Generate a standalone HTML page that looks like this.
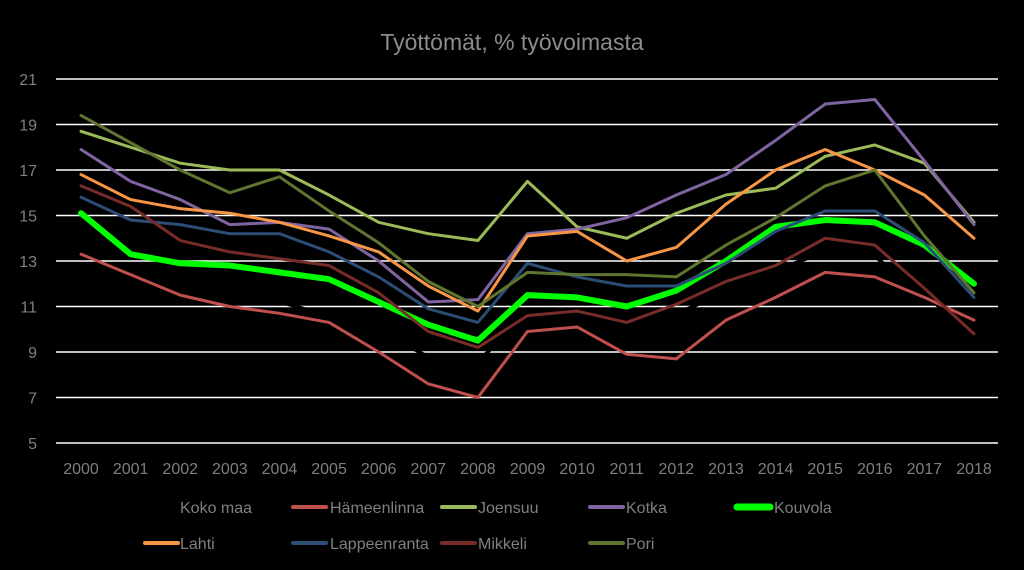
<!DOCTYPE html>
<html><head><meta charset="utf-8"><style>
body{margin:0;background:#000;}
svg{display:block;font-family:"Liberation Sans",sans-serif;}
</style></head><body>
<svg id="chart" width="1024" height="570">
<rect width="1024" height="570" fill="#000"/>
<text x="512" y="50" text-anchor="middle" font-size="23" fill="#8c8c8c">Työttömät, % työvoimasta</text>
<g id="grid"></g><g id="series"></g><g id="legend"></g>
</svg>
<script>
const years=[2000,2001,2002,2003,2004,2005,2006,2007,2008,2009,2010,2011,2012,2013,2014,2015,2016,2017,2018];
const yTicks=[5,7,9,11,13,15,17,19,21];
const kokoMaa=[12.7,12.3,12.0,11.7,11.2,10.6,9.9,8.8,8.6,10.6,10.6,10.3,10.7,11.6,12.6,13.4,13.2,11.5,9.8];
const hameenlinna=[13.3,12.4,11.5,11.0,10.7,10.3,9.0,7.6,7.0,9.9,10.1,8.9,8.7,10.4,11.4,12.5,12.3,11.4,10.4];
const joensuu=[18.7,18.0,17.3,17.0,17.0,15.9,14.7,14.2,13.9,16.5,14.5,14.0,15.1,15.9,16.2,17.6,18.1,17.3,14.7];
const kotka=[17.9,16.5,15.7,14.6,14.7,14.4,13.0,11.2,11.3,14.2,14.4,14.9,15.9,16.8,18.3,19.9,20.1,17.4,14.6];
const kouvola=[15.1,13.3,12.9,12.8,12.5,12.2,11.2,10.2,9.5,11.5,11.4,11.0,11.7,13.0,14.5,14.8,14.7,13.7,12.0];
const lahti=[16.8,15.7,15.3,15.1,14.7,14.1,13.4,11.9,10.8,14.1,14.3,13.0,13.6,15.5,17.0,17.9,17.0,15.9,14.0];
const lappeenranta=[15.8,14.8,14.6,14.2,14.2,13.4,12.3,10.9,10.3,12.9,12.3,11.9,11.9,12.9,14.3,15.2,15.2,13.8,11.4];
const mikkeli=[16.3,15.4,13.9,13.4,13.1,12.8,11.6,9.9,9.2,10.6,10.8,10.3,11.1,12.1,12.8,14.0,13.7,11.8,9.8];
const pori=[19.4,18.2,17.0,16.0,16.7,15.2,13.8,12.1,11.0,12.5,12.4,12.4,12.3,13.7,14.9,16.3,17.0,14.1,11.6];
const seriesNames=["Koko maa","Hämeenlinna","Joensuu","Kotka","Kouvola","Lahti","Lappeenranta","Mikkeli","Pori"];
const seriesData=[kokoMaa,hameenlinna,joensuu,kotka,kouvola,lahti,lappeenranta,mikkeli,pori];
const colors=["#000000","#c0504d","#9bbb59","#8064a2","#00ff00","#f79646","#2c4d75","#772c2a","#5f7530"];
const widths=[3.5,3,3,3,6,3,3,3,3];
const NS="http://www.w3.org/2000/svg";
const x0=56,x1=998,yTop=79,yBot=443,vMin=5,vMax=21;
const xs=i=>81+i*(974-81)/(years.length-1);
const ys=v=>yBot-(v-vMin)*(yBot-yTop)/(vMax-vMin);
function mk(t,a,p){const e=document.createElementNS(NS,t);for(const k in a)e.setAttribute(k,a[k]);p.appendChild(e);return e;}
const grid=document.getElementById('grid');
yTicks.forEach(v=>{
 const l=mk('line',{x1:x0,x2:x1,y1:ys(v),y2:ys(v),stroke:'#ffffff','stroke-width':1.6},grid);
 
 
 const t=mk('text',{x:37,y:ys(v)+6,'text-anchor':'end','font-size':16,fill:'#7f7f7f'},grid);
 t.textContent=v;
 
 
});
years.forEach((y,i)=>{
 const t=mk('text',{x:xs(i),y:474,'text-anchor':'middle','font-size':16,fill:'#7f7f7f'},grid);
 t.textContent=y;
 
 
});
const sg=document.getElementById('series');
seriesData.forEach((d,s)=>{
 const p=mk('polyline',{points:d.map((v,i)=>xs(i)+','+ys(v)).join(' '),fill:'none',stroke:colors[s],'stroke-width':widths[s],'stroke-linejoin':'round','stroke-linecap':'round'},sg);
 
 
});
const lg=document.getElementById('legend');
const legPos=[[null,180,507],[293,330,507],[442,478,507],[590,626,507],[737,774,507],[145,180,543],[293,330,543],[442,478,543],[590,626,543]];
seriesNames.forEach((n,s)=>{
 const [lx,tx,ly]=legPos[s];
 const g=mk('g',{},lg);
 
 
 if(lx!==null) mk('line',{x1:lx,x2:lx+33,y1:ly,y2:ly,stroke:colors[s],'stroke-width':widths[s]+1,'stroke-linecap':'round'},g);
 const t=mk('text',{x:tx,y:ly+6,'font-size':16,fill:'#7f7f7f'},g);
 t.textContent=n;
});
</script>
</body></html>
